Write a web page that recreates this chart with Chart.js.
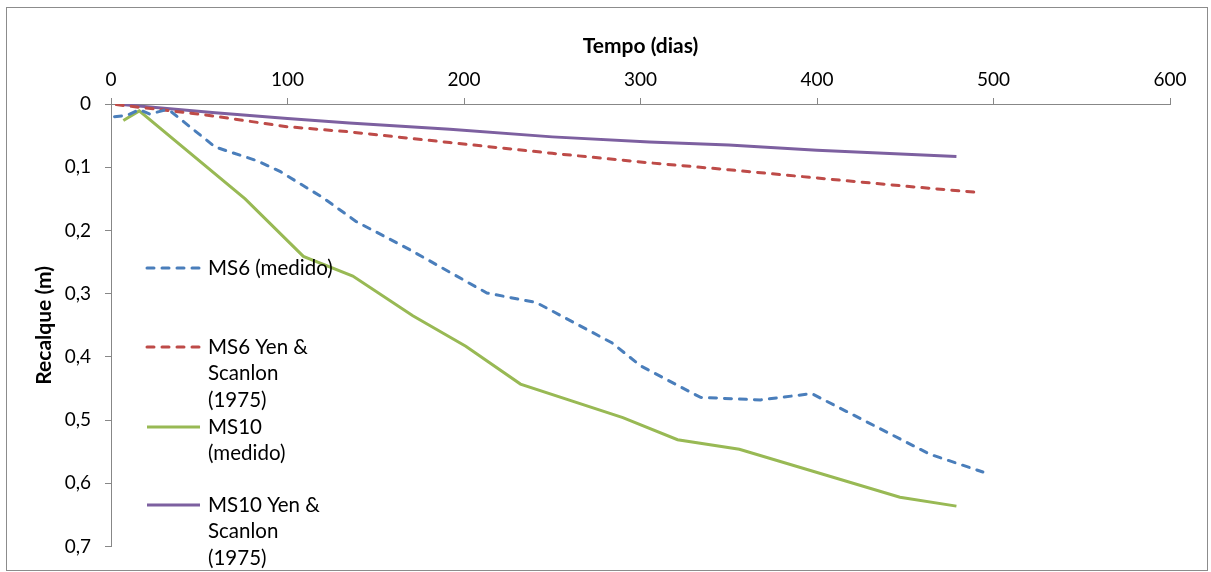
<!DOCTYPE html>
<html>
<head>
<meta charset="utf-8">
<script src="https://cdn.jsdelivr.net/npm/chart.js@4.4.1/dist/chart.umd.min.js"></script>
<style>
  html, body { margin: 0; padding: 0; background: #fff; }
  #wrap { width: 1211px; height: 572px; }
</style>
</head>
<body>
<div id="wrap"><canvas id="myChart" width="1211" height="572"></canvas></div>
<script>
// data (tempo in dias, recalque in m)
const seriesNames = ['MS6 (medido)', 'MS6 Yen & Scanlon (1975)', 'MS10 (medido)', 'MS10 Yen & Scanlon (1975)'];
const legendLines = [
    ['MS6 (medido)'],
    ['MS6 Yen &', 'Scanlon', '(1975)'],
    ['MS10', '(medido)'],
    ['MS10 Yen &', 'Scanlon', '(1975)']
];

const ms6Days = [2, 9, 16, 22, 30, 34, 59, 83, 96, 120, 139, 169, 213, 241, 284, 300, 334, 368, 397, 464, 494];
const ms6Settle = [0.020, 0.018, 0.009, 0.016, 0.010, 0.012, 0.068, 0.090, 0.107, 0.148, 0.186, 0.230, 0.299, 0.314, 0.378, 0.414, 0.464, 0.468, 0.458, 0.554, 0.582];

const ms6YenDays = [3, 53, 100, 135, 192, 250, 305, 350, 400, 450, 492];
const ms6YenSettle = [0.001, 0.017, 0.036, 0.044, 0.061, 0.078, 0.093, 0.104, 0.117, 0.130, 0.140];

const ms10Days = [7, 16, 76, 109, 137, 171, 201, 232, 290, 321, 356, 447, 479];
const ms10Settle = [0.026, 0.011, 0.150, 0.241, 0.272, 0.335, 0.383, 0.443, 0.496, 0.531, 0.546, 0.622, 0.636];

const ms10YenDays = [3, 59, 100, 135, 192, 250, 305, 350, 400, 479];
const ms10YenSettle = [0.000, 0.014, 0.023, 0.030, 0.040, 0.052, 0.060, 0.065, 0.073, 0.083];

const xTicks = [0, 100, 200, 300, 400, 500, 600];
const yTicks = [0, 0.1, 0.2, 0.3, 0.4, 0.5, 0.6, 0.7];

function toPoints(xs, ys) {
    return xs.map((x, i) => ({ x: x, y: ys[i] }));
}

const FONT = 'Lato, "Open Sans", sans-serif';
const axisGray = '#878787';

// white background + outer frame like the spreadsheet chart
const frame = {
    id: 'frame',
    beforeDraw(chart) {
        const ctx = chart.ctx;
        ctx.save();
        ctx.fillStyle = '#fff';
        ctx.fillRect(0, 0, chart.width, chart.height);
        ctx.strokeStyle = '#8c8c8c';
        ctx.lineWidth = 1;
        ctx.strokeRect(6.5, 7.5, 1201, 563);
        ctx.restore();
    }
};

// legend sits inside the plot, with wrapped labels
const sideLegend = {
    id: 'sideLegend',
    afterDatasetsDraw(chart) {
        const ctx = chart.ctx;
        const rows = [268, 347, 427, 505];
        ctx.save();
        chart.data.datasets.forEach((ds, i) => {
            const y = rows[i];
            ctx.beginPath();
            ctx.strokeStyle = ds.borderColor;
            ctx.lineWidth = ds.borderWidth;
            ctx.lineCap = ds.borderCapStyle || 'butt';
            ctx.setLineDash(ds.borderDash || []);
            ctx.moveTo(147, y);
            ctx.lineTo(200, y);
            ctx.stroke();
            ctx.setLineDash([]);
            ctx.fillStyle = '#000';
            ctx.font = '20.5px ' + FONT;
            ctx.textBaseline = 'middle';
            ctx.textAlign = 'left';
            legendLines[i].forEach((line, k) => {
                ctx.fillText(line, 208, y + k * 26.5);
            });
        });
        ctx.restore();
    }
};

const chart = document.getElementById('myChart');

new Chart(chart, {
    type: 'line',
    data: {
        datasets: [{
            label: seriesNames[0],
            data: toPoints(ms6Days, ms6Settle),
            borderColor: '#4A7EBB',
            borderWidth: 3,
            borderDash: [7, 8],
            borderCapStyle: 'round'
        }, {
            label: seriesNames[1],
            data: toPoints(ms6YenDays, ms6YenSettle),
            borderColor: '#BE4B48',
            borderWidth: 3,
            borderDash: [7, 8],
            borderCapStyle: 'round'
        }, {
            label: seriesNames[2],
            data: toPoints(ms10Days, ms10Settle),
            borderColor: '#98B954',
            borderWidth: 3
        }, {
            label: seriesNames[3],
            data: toPoints(ms10YenDays, ms10YenSettle),
            borderColor: '#7D60A0',
            borderWidth: 3
        }]
    },
    options: {
        responsive: false,
        animation: false,
        devicePixelRatio: 1,
        events: [],
        layout: { padding: { left: 0, top: 0, right: 41, bottom: 24 } },
        elements: {
            point: { radius: 0 },
            line: { tension: 0, fill: false }
        },
        plugins: {
            legend: { display: false },
            tooltip: { enabled: false }
        },
        scales: {
            x: {
                type: 'linear',
                position: 'top',
                min: 0,
                max: 600,
                afterBuildTicks: (axis) => { axis.ticks = xTicks.map(v => ({ value: v })); },
                afterFit: (axis) => { axis.height = 104; },
                grid: { drawOnChartArea: false, drawTicks: true, tickLength: 6, color: axisGray },
                border: { display: true, color: axisGray, width: 1 },
                ticks: {
                    padding: 7,
                    color: '#000',
                    font: { family: FONT, size: 19 },
                    maxRotation: 0
                },
                title: {
                    display: true,
                    text: 'Tempo (dias)',
                    color: '#000',
                    font: { family: FONT, size: 21, weight: 'bold' },
                    padding: { top: 34, bottom: 0 }
                }
            },
            y: {
                type: 'linear',
                reverse: true,
                min: 0,
                max: 0.7,
                afterBuildTicks: (axis) => { axis.ticks = yTicks.map(v => ({ value: v })); },
                afterFit: (axis) => { axis.width = 111; },
                grid: { drawOnChartArea: false, drawTicks: true, tickLength: 6, color: axisGray },
                border: { display: true, color: axisGray, width: 1 },
                ticks: {
                    padding: 14,
                    color: '#000',
                    font: { family: FONT, size: 19 },
                    callback: (v) => v === 0 ? '0' : v.toFixed(1).replace('.', ',')
                },
                title: {
                    display: true,
                    text: 'Recalque (m)',
                    color: '#000',
                    font: { family: FONT, size: 21, weight: 'bold' },
                    padding: { top: 32, bottom: 0 }
                }
            }
        }
    },
    plugins: [frame, sideLegend]
});
</script>
</body>
</html>
